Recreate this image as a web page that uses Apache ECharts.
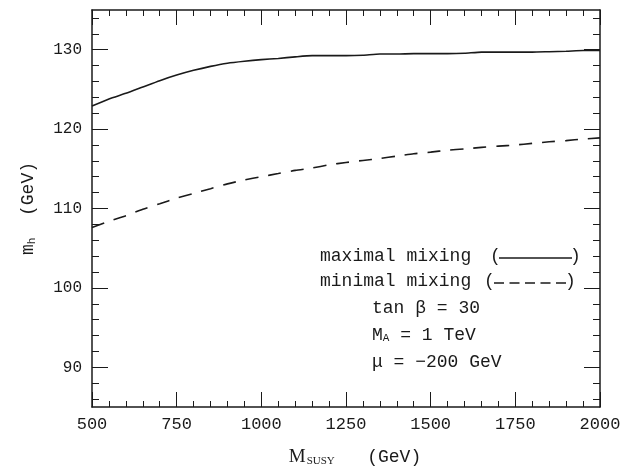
<!DOCTYPE html>
<html>
<head>
<meta charset="utf-8">
<script src="https://cdn.jsdelivr.net/npm/echarts@6/dist/echarts.min.js"></script>
<style>
  html, body { margin: 0; padding: 0; background: #fff; }
  #chart { width: 624px; height: 466px; }
</style>
</head>
<body>
<div id="chart"></div>
<script>
// SUSY mass scale (GeV)
const mSusy = [500, 550, 600, 650, 700, 750, 800, 850, 900, 950, 1000,
  1050, 1100, 1150, 1200, 1250, 1300, 1350, 1400, 1450, 1500,
  1550, 1600, 1650, 1700, 1750, 1800, 1850, 1900, 1950, 2000];

// light Higgs mass m_h (GeV), maximal stop mixing
const mhMaximal = [122.9, 123.8, 124.5, 125.3, 126.1, 126.8, 127.4, 127.9, 128.3, 128.55, 128.75,
  128.9, 129.1, 129.25, 129.25, 129.25, 129.3, 129.45, 129.45, 129.5, 129.5,
  129.5, 129.55, 129.7, 129.7, 129.7, 129.7, 129.75, 129.8, 129.9, 129.9];

// light Higgs mass m_h (GeV), minimal stop mixing
const mhMinimal = [107.6, 108.4, 109.1, 109.9, 110.6, 111.3, 111.9, 112.5, 113.1, 113.6, 114.0,
  114.4, 114.8, 115.1, 115.5, 115.8, 116.05, 116.3, 116.6, 116.9, 117.1,
  117.35, 117.5, 117.7, 117.85, 118.0, 118.2, 118.4, 118.55, 118.75, 118.9];

// m_h axis ticks (labelled majors and unlabelled minors)
const yMajorTicks = [90, 100, 110, 120, 130];
const yMinorTicks = [86, 88, 92, 94, 96, 98, 102, 104, 106, 108, 112, 114, 116, 118,
  122, 124, 126, 128, 132, 134];

const FONT = '"Liberation Mono", "DejaVu Sans Mono", monospace';
const SERIF = '"Liberation Serif", serif';
const INK = '#1a1a1a';

function pairs(xs, ys) { return xs.map((x, i) => [x, ys[i]]); }

const tickStyle = { color: INK, width: 1 };

function xFrame(position, showLabels) {
  return {
    type: 'value', min: 500, max: 2000, interval: 250, position: position,
    axisLine: { show: true, onZero: false, lineStyle: { color: INK, width: 1.5 } },
    axisTick: { show: true, inside: true, length: 15, lineStyle: tickStyle },
    minorTick: { show: true, splitNumber: 5, length: 6, lineStyle: tickStyle },
    splitLine: { show: false }, minorSplitLine: { show: false },
    axisLabel: showLabels
      ? { show: true, color: INK, fontFamily: FONT, fontSize: 17, margin: 9, formatter: v => String(v) }
      : { show: false }
  };
}

function yFrame(position, ticks, len, showLine, showLabels) {
  return {
    type: 'value', min: 85, max: 135, position: position,
    axisLine: { show: showLine, onZero: false, lineStyle: { color: INK, width: 1.5 } },
    axisTick: { show: true, inside: true, length: len, customValues: ticks, lineStyle: tickStyle },
    minorTick: { show: false },
    splitLine: { show: false }, minorSplitLine: { show: false },
    axisLabel: showLabels
      ? { show: true, customValues: ticks, color: INK, fontFamily: FONT, fontSize: 16, margin: 10 }
      : { show: false }
  };
}

const chart = echarts.init(document.getElementById('chart'), null, { renderer: 'canvas' });

const legendY1 = 258, legendY2 = 283;

const xBottom = xFrame('bottom', true);
Object.assign(xBottom, {
  name: '{m|M}{s|SUSY}{g|   (GeV)}',
  nameLocation: 'middle', nameGap: 40,
  nameTextStyle: {
    padding: [0, 0, 0, 18],
    rich: {
      m: { fontFamily: SERIF, fontSize: 19, color: INK },
      s: { fontFamily: SERIF, fontSize: 11, color: INK, verticalAlign: 'bottom', padding: [9, 0, 0, 1] },
      g: { fontFamily: FONT, fontSize: 18, color: INK }
    }
  }
});

const yLeft = yFrame('left', yMajorTicks, 16, true, true);
Object.assign(yLeft, {
  name: '{m|m}{s|h}{g|  (GeV)}',
  nameLocation: 'middle', nameGap: 54, nameRotate: 90,
  nameTextStyle: {
    rich: {
      m: { fontFamily: FONT, fontSize: 18, color: INK },
      s: { fontFamily: FONT, fontSize: 11, color: INK, verticalAlign: 'bottom', padding: [8, 0, 0, 0] },
      g: { fontFamily: FONT, fontSize: 18, color: INK }
    }
  }
});

chart.setOption({
  animation: false,
  backgroundColor: '#fff',
  grid: { left: 92, right: 24, top: 10, bottom: 59, containLabel: false, outerBoundsMode: 'none' },
  xAxis: [xBottom, xFrame('top', false)],
  yAxis: [
    yLeft,
    yFrame('right', yMajorTicks, 16, true, false),
    yFrame('left', yMinorTicks, 7, false, false),
    yFrame('right', yMinorTicks, 7, false, false)
  ],
  series: [
    {
      name: 'maximal mixing', type: 'line', xAxisIndex: 0, yAxisIndex: 0,
      data: pairs(mSusy, mhMaximal), showSymbol: false, smooth: 0.2,
      lineStyle: { color: INK, width: 1.6, type: 'solid' }
    },
    {
      name: 'minimal mixing', type: 'line', xAxisIndex: 0, yAxisIndex: 0,
      data: pairs(mSusy, mhMinimal), showSymbol: false, smooth: 0.2,
      lineStyle: { color: INK, width: 1.6, type: [13, 10] }
    }
  ],
  graphic: [
    { type: 'text', left: 320, top: legendY1 - 11,
      style: { text: 'maximal mixing', font: '18px ' + FONT, fill: INK } },
    { type: 'text', left: 490, top: legendY1 - 11,
      style: { text: '(', font: '18px ' + FONT, fill: INK } },
    { type: 'line', shape: { x1: 499, y1: legendY1, x2: 572, y2: legendY1 },
      style: { stroke: INK, lineWidth: 1.5 } },
    { type: 'text', left: 570, top: legendY1 - 11,
      style: { text: ')', font: '18px ' + FONT, fill: INK } },

    { type: 'text', left: 320, top: legendY2 - 11,
      style: { text: 'minimal mixing', font: '18px ' + FONT, fill: INK } },
    { type: 'text', left: 484, top: legendY2 - 11,
      style: { text: '(', font: '18px ' + FONT, fill: INK } },
    { type: 'line', shape: { x1: 494, y1: legendY2, x2: 566, y2: legendY2 },
      style: { stroke: INK, lineWidth: 1.5, lineDash: [10, 5.5] } },
    { type: 'text', left: 565, top: legendY2 - 11,
      style: { text: ')', font: '18px ' + FONT, fill: INK } },

    { type: 'text', left: 372, top: 299,
      style: { text: 'tan β = 30', font: '18px ' + FONT, fill: INK } },
    { type: 'text', left: 372, top: 326,
      style: {
        text: '{a|M}{b|A}{a| = 1 TeV}',
        rich: {
          a: { fontFamily: FONT, fontSize: 18, fill: INK },
          b: { fontFamily: FONT, fontSize: 11, fill: INK, verticalAlign: 'bottom', padding: [7, 0, 0, 0] }
        }
      } },
    { type: 'text', left: 372, top: 353,
      style: { text: 'μ = −200 GeV', font: '18px ' + FONT, fill: INK } }
  ]
});
</script>
</body>
</html>
